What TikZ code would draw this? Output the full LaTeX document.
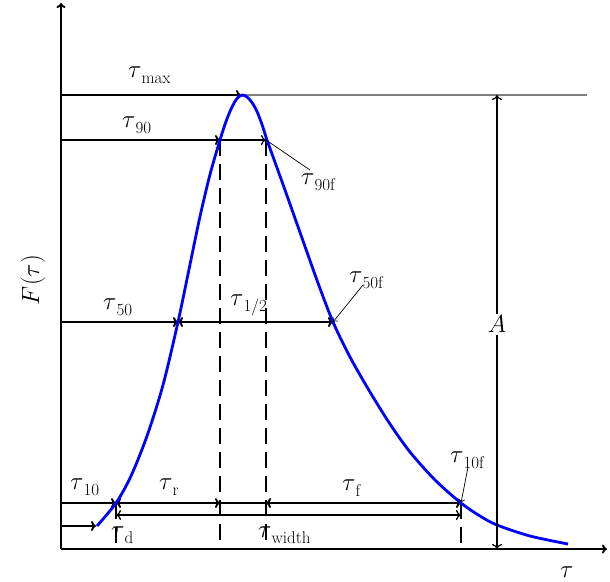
\documentclass[tikz,border=0pt]{standalone}
\usetikzlibrary{arrows.meta}
\newcommand\tsub[1]{$\tau$\raisebox{-6pt}{\fontsize{17}{17}\selectfont #1}}
\tikzset{
  axis/.style={line width=1.9pt,-{To[length=5pt,width=9pt]}},
  thickarr/.style={line width=1.9pt,-{To[length=5pt,width=10pt]}},
  thinarr/.style={line width=1.3pt,{To[length=5pt,width=10pt]}-{To[length=5pt,width=10pt]}},
  thinarrr/.style={line width=1.3pt,-{To[length=5pt,width=10pt]}},
  dbl/.style={line width=1.9pt,{To[length=5pt,width=10pt]}-{To[length=5pt,width=10pt]}},
  guide/.style={line width=1.8pt,dash pattern=on 16pt off 8pt},
  pointer/.style={line width=0.7pt,-{To[length=4pt,width=7pt]}},
  lbl/.style={anchor=base west,inner sep=0pt,font=\fontsize{23}{27}\selectfont},
  curve/.style={blue,line width=2.8pt,line join=round},
}
\begin{document}
\begin{tikzpicture}[x=1pt,y=-1pt]
\useasboundingbox (0,0) rectangle (610,581);
% key coordinates
\coordinate (O) at (61,549);
\coordinate (Ytop) at (61,3);
\coordinate (Xend) at (607,549);
\coordinate (Lmax) at (61,95);
\coordinate (Pk) at (241,95);
\coordinate (Gend) at (587,95);
\coordinate (L90) at (61,140);
\coordinate (R90) at (220,140);
\coordinate (F90) at (266,140);
\coordinate (L50) at (61,322);
\coordinate (R50) at (178,322);
\coordinate (F50) at (333,322);
\coordinate (L10) at (61,503);
\coordinate (R10) at (116,503);
\coordinate (F10) at (461,503);
\coordinate (Wl) at (116,515);
\coordinate (Wr) at (461,515);
\coordinate (Ld) at (61,526);
\coordinate (Cs) at (96,526);
\coordinate (Atop) at (497,95);
\coordinate (Abot) at (497,549);
\coordinate (B116) at (116,549);
\coordinate (B220) at (220,549);
\coordinate (B266) at (266,549);
\coordinate (B461) at (461,549);

% guides
\draw[guide] (R90) -- (B220);
\draw[guide] (F90) -- (B266);
\draw[guide] (R10) -- (B116);
\draw[guide] (F10) -- (B461);

% gray level line
\draw[gray,line width=1.1pt] (Pk) -- (Gend);

% axes
\draw[axis] (O) -- (Ytop);
\draw[axis] (O) -- (Xend);

% level arrows
\draw[thickarr] (Lmax) -- (Pk);
\draw[thickarr] (L90) -- (R90);
\draw[thinarrr] (R90) -- (F90);
\draw[thickarr] (L50) -- (R50);
\draw[dbl] (R50) -- (F50);
\draw[thickarr] (L10) -- (R10);
\draw[dbl] (R10) -- (R90 |- R10);
\draw[line width=1.9pt] (R90 |- R10) -- (F90 |- R10);
\draw[dbl] (F90 |- R10) -- (F10);
\draw[thinarr] (Wl) -- (Wr);
\draw[thickarr] (Ld) -- (Cs);

% curve
\draw[curve] plot[smooth,tension=0.5] coordinates {
(97,526) (116,503) (131,476) (147,436) (163,385) (178,322)
(190,264.5) (200,216.5) (210,174.5) (220,140) (226,121.5) (232,107) (237,98.5)
(242,95) (247,97) (252,102.5) (257,111.5) (262,124.5) (267,140) (276,165)
(285,190) (302,238) (318,283) (333,322) (350,357) (370,392) (390,424)
(410,452) (435,480) (461,503) (480,516) (497,525) (530,536) (568,544)};

% amplitude arrow
\draw[thinarr] (Abot) -- (Atop) node[pos=0.495,fill=white,inner sep=2pt,font=\fontsize{23}{27}\selectfont] (A) {$A$};

% labels
\node[lbl] (tmax) at (128,77) {\tsub{max}};
\node[lbl] (t90) at (122,127) {\tsub{90}};
\node[lbl] (t90f) at (301,184) {\tsub{90f}};
\node[lbl] (t50) at (103,309) {\tsub{50}};
\node[lbl] (thalf) at (230,305) {\tsub{1/2}};
\node[lbl] (t50f) at (349,282) {\tsub{50f}};
\node[lbl] (t10) at (70,489) {\tsub{10}};
\node[lbl] (tr) at (159,489) {\tsub{r}};
\node[lbl] (tf) at (342,490) {\tsub{f}};
\node[lbl] (t10f) at (450,462) {\tsub{10f}};
\node[lbl] (td) at (111,537) {\tsub{d}};
\node[lbl] (twidth) at (258,537) {\tsub{width}};
\node[lbl] (tx) at (560,577) {$\tau$};
\node[inner sep=0pt,rotate=90,font=\fontsize{23}{27}\selectfont] (Fy) at (33,280) {$F(\tau)$};

% label pointers
\coordinate (p90) at (310,170);
\coordinate (p50) at (363,285);
\coordinate (p10) at (468,467);
\draw[line width=0.7pt] (p90) -- (F90);
\draw[pointer] (p50) -- (F50);
\draw[pointer] (p10) -- (F10);
\end{tikzpicture}
\end{document}
